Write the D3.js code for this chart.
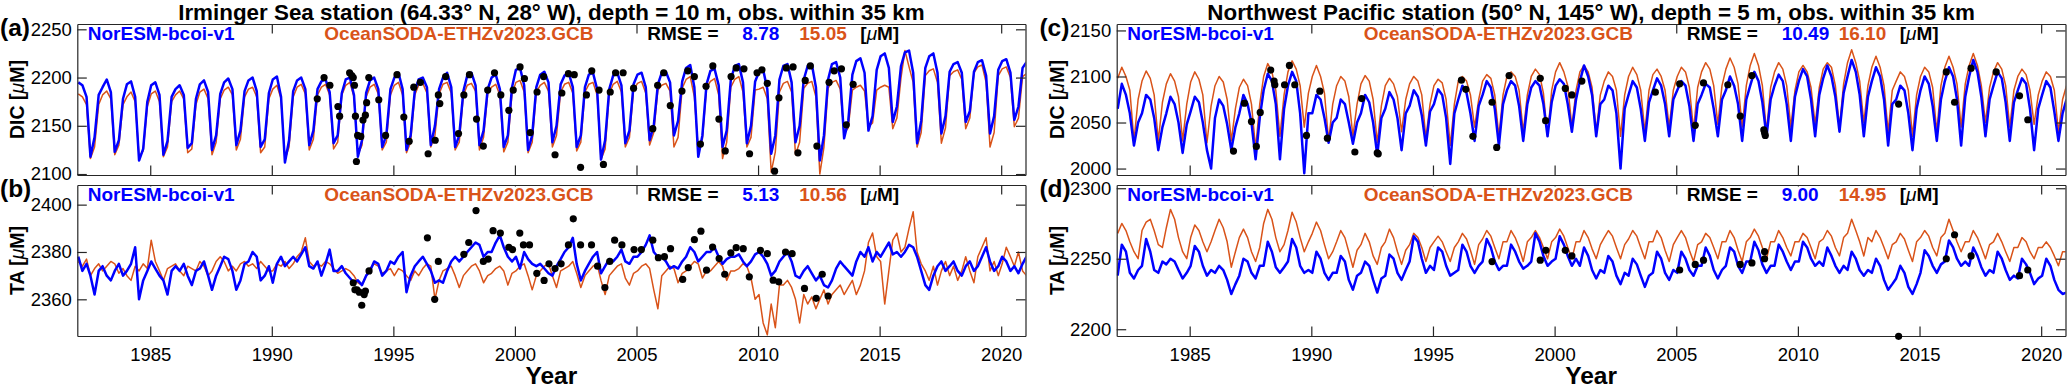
<!DOCTYPE html>
<html><head><meta charset="utf-8">
<script src="https://cdn.jsdelivr.net/npm/d3@7"></script>
<style>
body{margin:0;background:#fff;}
svg{display:block;font-family:"Liberation Sans",Arial,Helvetica,sans-serif;}
</style></head><body>
<svg id="chart" width="2067" height="390"></svg>
<script>
// ---------------- DATA ----------------
const xTicks = [1985, 1990, 1995, 2000, 2005, 2010, 2015, 2020];
const yTicksA = [2100, 2150, 2200, 2250];
const yTicksB = [2360, 2380, 2400];
const yTicksC = [2000, 2050, 2100, 2150];
const yTicksD = [2200, 2250, 2300];
// sample months within each year (Jan, Mar, May, Jul, Sep, Nov), series start 1982
const sampleOffsets = [0.04, 0.21, 0.38, 0.54, 0.71, 0.88];

// (a) Irminger DIC
const dicIrmNorESM = [
2195,2192,2180,2118,2138,2182, 2190,2198,2185,2123,2135,2178, 2193,2196,2180,2114,2126,2175,
2192,2195,2182,2120,2134,2180, 2188,2192,2182,2127,2132,2178, 2193,2197,2185,2125,2140,2183,
2195,2199,2188,2130,2145,2186, 2197,2200,2186,2128,2136,2184, 2198,2201,2180,2112,2135,2186,
2197,2200,2188,2130,2145,2188, 2196,2198,2185,2132,2140,2184, 2198,2200,2182,2118,2135,2184,
2197,2200,2188,2128,2140,2188, 2200,2205,2188,2125,2140,2186, 2198,2200,2190,2130,2150,2188,
2200,2205,2190,2128,2140,2186, 2202,2205,2192,2130,2145,2188, 2200,2203,2188,2128,2140,2190,
2208,2210,2192,2125,2140,2190, 2203,2206,2195,2133,2150,2193, 2202,2205,2190,2128,2140,2190,
2203,2205,2188,2115,2135,2188, 2202,2205,2192,2132,2145,2193, 2203,2205,2190,2135,2150,2193,
2205,2206,2195,2140,2155,2196, 2210,2213,2190,2118,2140,2193, 2207,2209,2192,2128,2145,2198,
2212,2214,2195,2132,2150,2196, 2206,2208,2188,2121,2140,2198, 2212,2214,2195,2133,2150,2198,
2212,2214,2190,2114,2140,2198, 2214,2216,2200,2137,2155,2203, 2217,2220,2205,2145,2160,2208,
2222,2225,2210,2154,2170,2212, 2226,2228,2205,2132,2155,2210, 2222,2225,2205,2142,2160,2206,
2214,2216,2205,2154,2165,2206, 2216,2218,2202,2142,2160,2208, 2217,2219,2205,2156,2170,2210,
2216];
const dicIrmSODA = [
2183,2180,2172,2116,2128,2172, 2182,2186,2178,2120,2130,2172, 2180,2185,2175,2118,2124,2170,
2183,2186,2175,2118,2128,2175, 2182,2186,2178,2122,2126,2172, 2185,2188,2178,2120,2133,2178,
2187,2190,2182,2125,2136,2180, 2188,2190,2180,2122,2128,2178, 2188,2192,2178,2115,2128,2180,
2190,2193,2183,2125,2136,2182, 2190,2193,2182,2126,2133,2182, 2192,2195,2180,2120,2130,2180,
2190,2193,2183,2125,2133,2182, 2192,2195,2182,2122,2133,2182, 2192,2194,2184,2128,2140,2183,
2193,2195,2184,2125,2133,2182, 2192,2194,2186,2125,2138,2183, 2190,2193,2182,2123,2133,2183,
2195,2197,2185,2122,2133,2185, 2192,2195,2186,2128,2140,2185, 2193,2195,2184,2124,2133,2185,
2193,2195,2182,2115,2126,2183, 2193,2196,2185,2128,2138,2187, 2194,2196,2184,2130,2143,2187,
2192,2194,2186,2128,2138,2189, 2198,2201,2180,2125,2136,2189, 2196,2199,2182,2116,2133,2190,
2198,2201,2185,2128,2138,2187, 2188,2190,2178,2102,2123,2185, 2194,2196,2185,2120,2133,2189,
2194,2196,2180,2100,2128,2189, 2195,2197,2188,2142,2148,2187, 2190,2192,2186,2149,2153,2187,
2190,2192,2190,2147,2158,2200, 2228,2211,2195,2128,2143,2202, 2207,2209,2195,2132,2148,2202,
2206,2208,2198,2147,2158,2205, 2211,2213,2195,2128,2143,2202, 2209,2211,2200,2149,2158,2201,
2204];
const dicIrmObs = [
[1991.87,2178],[1992.15,2200],[1992.39,2192],[1992.72,2170],[1992.79,2160],[1993.20,2205],[1993.29,2202],
[1993.35,2200],[1993.40,2192],[1993.44,2160],[1993.48,2113],[1993.53,2140],[1993.66,2139],[1993.75,2156],
[1993.85,2161],[1993.90,2174],[1993.99,2200],[1994.40,2177],[1994.68,2140],[1995.15,2203],[1995.43,2159],
[1995.65,2134],[1995.84,2190],[1996.11,2195],[1996.43,2121],[1996.72,2135],[1996.85,2182],[1996.91,2173],
[1997.15,2201],[1997.68,2142],[1997.90,2182],[1998.13,2203],[1998.42,2157],[1998.70,2129],[1998.88,2187],
[1999.16,2205],[1999.42,2182],[1999.75,2166],[1999.93,2187],[2000.21,2211],[2000.39,2199],[2000.63,2143],
[2000.91,2185],[2001.18,2201],[2001.65,2120],[2001.93,2184],[2002.20,2204],[2002.44,2203],[2002.70,2107],
[2002.94,2182],[2003.16,2207],[2003.46,2187],[2003.64,2110],[2003.92,2185],[2004.14,2205],[2004.45,2205],
[2004.88,2189],[2005.67,2147],[2005.87,2192],[2006.12,2205],[2006.39,2171],[2006.87,2186],[2007.11,2207],
[2007.38,2201],[2007.63,2131],[2007.86,2191],[2008.14,2212],[2008.39,2157],[2008.65,2124],[2008.89,2201],
[2009.10,2210],[2009.42,2209],[2009.65,2121],[2009.96,2205],[2010.16,2208],[2010.38,2194],[2010.68,2103],
[2010.86,2179],[2011.16,2210],[2011.44,2211],[2011.64,2122],[2011.94,2197],[2012.15,2212],[2012.42,2129],
[2012.92,2195],[2013.13,2207],[2013.43,2209],[2013.63,2151],[2013.91,2193]];

// (b) Irminger TA
const taIrmNorESM = [
2378,2372,2375,2370,2362,2372, 2374,2370,2368,2372,2375,2370, 2372,2375,2382,2360,2368,2372,
2376,2373,2370,2368,2362,2372, 2374,2372,2375,2370,2366,2372, 2373,2376,2370,2364,2370,2374,
2378,2377,2372,2364,2368,2375, 2376,2380,2378,2368,2370,2374, 2367,2375,2378,2374,2376,2378,
2376,2379,2382,2374,2373,2376, 2370,2375,2381,2372,2372,2374, 2371,2369,2367,2368,2366,2370,
2372,2376,2375,2370,2372,2376, 2375,2378,2380,2363,2370,2374, 2376,2378,2375,2372,2367,2368,
2367,2372,2376,2378,2376,2378, 2380,2382,2384,2383,2378,2380, 2380,2384,2387,2382,2378,2376,
2378,2373,2380,2377,2375,2374, 2375,2373,2371,2370,2374,2377, 2380,2382,2386,2375,2368,2372,
2375,2378,2380,2371,2374,2377, 2376,2378,2381,2376,2375,2378, 2378,2380,2383,2387,2380,2378,
2378,2376,2373,2374,2373,2376, 2378,2382,2380,2376,2378,2380, 2380,2382,2378,2375,2377,2378,
2378,2379,2376,2374,2376,2379, 2380,2378,2375,2370,2372,2376, 2378,2380,2376,2370,2369,2372,
2374,2371,2368,2370,2366,2365, 2368,2373,2376,2374,2372,2370, 2376,2380,2378,2382,2376,2380,
2378,2381,2384,2379,2380,2378, 2380,2383,2382,2378,2372,2366, 2364,2370,2374,2376,2372,2374,
2376,2372,2370,2374,2376,2372, 2374,2378,2382,2376,2372,2374, 2378,2376,2372,2374,2371,2375,
2378];
const taIrmSODA = [
2376,2374,2377,2370,2373,2375, 2372,2374,2376,2375,2371,2373, 2370,2368,2374,2372,2375,2373,
2385,2376,2372,2368,2373,2374, 2375,2372,2370,2374,2373,2372, 2376,2374,2370,2372,2376,2378,
2376,2372,2374,2372,2375,2376, 2374,2375,2373,2376,2374,2372, 2372,2375,2374,2376,2373,2375,
2378,2380,2386,2376,2374,2375, 2374,2376,2375,2373,2371,2372, 2373,2372,2370,2367,2366,2370,
2373,2375,2374,2371,2372,2373, 2370,2373,2372,2370,2368,2372, 2370,2373,2375,2374,2360,2368,
2372,2373,2374,2370,2365,2370, 2372,2374,2375,2372,2367,2370, 2371,2373,2374,2372,2366,2371,
2372,2374,2375,2370,2364,2370, 2372,2374,2375,2370,2365,2372, 2373,2374,2376,2371,2365,2370,
2372,2374,2375,2368,2362,2370, 2372,2374,2375,2369,2366,2371, 2372,2374,2375,2373,2364,2356,
2370,2372,2374,2373,2367,2371, 2372,2374,2376,2375,2369,2372, 2372,2374,2376,2374,2368,2372,
2372,2373,2375,2374,2369,2360, 2362,2350,2345,2358,2348,2366, 2366,2368,2365,2360,2350,2362,
2358,2361,2356,2360,2364,2358, 2362,2364,2366,2362,2365,2368, 2362,2366,2372,2384,2388,2378,
2376,2358,2372,2385,2388,2380, 2382,2390,2397,2380,2375,2372, 2368,2374,2366,2372,2376,2370,
2374,2368,2372,2378,2372,2367, 2378,2382,2386,2372,2376,2370, 2375,2382,2378,2374,2380,2372,
2370];
const taIrmObs = [
[1993.35,2367],[1993.42,2364],[1993.50,2364],[1993.60,2363],[1993.70,2357.5],[1993.80,2362],[1993.85,2363.5],
[1994.00,2372],[1996.40,2386],[1996.70,2360],[1996.85,2376],[1997.90,2379],[1998.10,2384],[1998.40,2397.5],
[1998.70,2376],[1998.90,2377],[1999.10,2389],[1999.40,2388],[1999.75,2382],[1999.90,2381],[2000.20,2388],
[2000.35,2383],[2000.60,2383],[2000.90,2371],[2001.20,2368],[2001.40,2375],[2001.65,2373],[2001.90,2375],
[2002.20,2383],[2002.40,2394],[2002.70,2383],[2003.15,2383],[2003.40,2374],[2003.70,2365],[2003.90,2376],
[2004.10,2385],[2004.40,2383],[2004.90,2381],[2005.20,2381],[2005.67,2385],[2005.90,2377.6],[2006.15,2378],
[2006.40,2381.4],[2006.90,2368.4],[2007.13,2373.4],[2007.38,2385.2],[2007.65,2388.8],[2007.88,2372.3],
[2008.13,2382.1],[2008.40,2377.2],[2008.63,2370.6],[2008.88,2379.6],[2009.10,2381.8],[2009.39,2381.4],
[2009.64,2369.5],[2010.10,2380.7],[2010.38,2379.3],[2010.62,2368.1],[2010.85,2367.4],[2011.13,2380],
[2011.40,2379.3],[2011.91,2364.6],[2012.39,2360.4],[2012.64,2370.6],[2012.88,2361.4]];

// (c) NW Pacific DIC
const dicPacNorESM = [
2065,2092,2080,2060,2025,2050, 2060,2080,2075,2055,2020,2045, 2060,2078,2070,2050,2017,2048,
2062,2078,2072,2050,2020,2000, 2055,2075,2068,2048,2020,2045, 2060,2080,2070,2050,2010,2055,
2085,2103,2095,2070,2010,2065, 2090,2105,2095,2060,1995,2060, 2060,2080,2075,2055,2028,2050,
2055,2075,2070,2050,2027,2050, 2060,2080,2072,2050,2015,2055, 2065,2083,2075,2055,2020,2060,
2068,2085,2078,2058,2025,2062, 2070,2086,2080,2055,2005,2060, 2075,2090,2082,2060,2030,2068,
2080,2095,2088,2065,2025,2070, 2085,2095,2090,2068,2030,2070, 2088,2095,2090,2070,2035,2072,
2090,2097,2092,2070,2040,2075, 2095,2112,2100,2080,2035,2070, 2075,2090,2085,2060,2000,2065,
2080,2095,2088,2065,2030,2072, 2085,2098,2090,2070,2035,2075, 2085,2095,2090,2068,2030,2070,
2080,2092,2088,2065,2035,2075, 2085,2100,2090,2070,2030,2075, 2090,2105,2095,2072,2035,2075,
2090,2102,2095,2070,2030,2078, 2095,2108,2100,2075,2035,2080, 2098,2112,2100,2078,2040,2082,
2100,2118,2105,2080,2035,2078, 2095,2110,2100,2075,2025,2070, 2075,2090,2085,2060,2020,2065,
2085,2100,2092,2068,2030,2075, 2095,2110,2100,2075,2025,2078, 2100,2118,2105,2078,2035,2075,
2090,2105,2098,2072,2030,2072, 2085,2098,2092,2065,2020,2065, 2080,2095,2088,2062,2030,2060,
2075];
const dicPacSODA = [
2098,2110,2100,2085,2030,2075, 2095,2106,2098,2080,2030,2072, 2092,2103,2095,2078,2030,2070,
2094,2105,2097,2080,2028,2068, 2090,2100,2094,2075,2030,2065, 2088,2097,2090,2070,2022,2070,
2100,2114,2105,2085,2035,2080, 2105,2117,2108,2090,2045,2082, 2100,2112,2100,2082,2030,2070,
2090,2100,2095,2078,2035,2070, 2092,2101,2095,2075,2028,2068, 2090,2098,2092,2078,2040,2075,
2092,2100,2095,2080,2033,2070, 2090,2097,2093,2075,2025,2070, 2095,2100,2095,2080,2045,2075,
2095,2102,2098,2080,2035,2080, 2100,2105,2100,2085,2040,2080, 2100,2108,2102,2082,2035,2085,
2105,2115,2105,2090,2045,2085, 2105,2112,2105,2088,2040,2080, 2095,2105,2100,2085,2035,2080,
2100,2110,2102,2085,2040,2085, 2102,2108,2100,2085,2045,2085, 2100,2110,2105,2088,2042,2088,
2105,2115,2108,2090,2048,2090, 2108,2120,2110,2092,2045,2090, 2112,2125,2112,2090,2040,2088,
2105,2115,2108,2090,2045,2085, 2105,2112,2105,2088,2048,2088, 2108,2115,2110,2090,2045,2092,
2115,2129,2115,2095,2050,2090, 2110,2122,2110,2090,2040,2085, 2095,2105,2100,2085,2035,2080,
2100,2110,2105,2088,2040,2090, 2110,2122,2110,2092,2045,2092, 2112,2125,2112,2090,2050,2088,
2105,2115,2108,2090,2045,2085, 2100,2108,2102,2085,2048,2080, 2095,2105,2100,2085,2040,2075,
2090];
const dicPacObs = [
[1986.80,2019],[1987.25,2071],[1987.54,2051],[1987.74,2024],[1987.90,2061],[1988.33,2107],[1988.47,2095],
[1988.50,2091],[1988.90,2091],[1989.10,2112],[1989.32,2091],[1989.80,2036],[1990.35,2084],[1990.66,2033],
[1991.79,2018],[1992.07,2076],[1992.71,2017],[1992.75,2016],[1996.17,2096],[1996.35,2086],[1996.64,2035],
[1997.43,2072],[1997.62,2023],[1998.13,2101],[1999.41,2098],[1999.63,2052],[2000.44,2087],[2000.71,2080],
[2001.12,2095],[2004.14,2083],[2005.14,2092],[2005.78,2047],[2006.12,2093],[2007.12,2091],[2007.63,2057],
[2008.11,2101],[2008.60,2042],[2008.63,2039],[2008.66,2036],[2014.14,2070],[2016.10,2105],[2016.44,2072],
[2017.12,2109],[2018.15,2105],[2019.11,2079],[2019.45,2053]];

// (d) NW Pacific TA
const taPacNorESM = [
2238,2260,2255,2240,2236,2242, 2245,2264,2255,2242,2240,2248, 2246,2250,2248,2242,2236,2240,
2245,2259,2255,2245,2238,2242, 2240,2245,2242,2235,2225,2232, 2238,2250,2248,2240,2236,2245,
2245,2262,2255,2244,2240,2244, 2248,2264,2258,2245,2240,2242, 2240,2255,2250,2240,2235,2240,
2240,2252,2248,2235,2228,2238, 2240,2248,2245,2235,2226,2236, 2238,2253,2250,2240,2235,2242,
2248,2266,2262,2250,2240,2245, 2242,2258,2255,2245,2238,2240, 2242,2260,2255,2245,2240,2245,
2248,2264,2258,2248,2242,2245, 2245,2260,2255,2248,2243,2245, 2248,2268,2262,2252,2245,2248,
2250,2266,2260,2252,2245,2250, 2245,2258,2252,2242,2236,2242, 2240,2252,2248,2238,2232,2240,
2238,2250,2246,2238,2230,2238, 2240,2255,2250,2240,2235,2242, 2240,2255,2250,2242,2238,2245,
2245,2258,2252,2242,2236,2242, 2245,2258,2255,2245,2240,2248, 2248,2262,2256,2246,2240,2245,
2245,2260,2255,2248,2242,2248, 2248,2262,2258,2250,2245,2248, 2245,2258,2252,2245,2240,2245,
2242,2255,2250,2242,2238,2242, 2240,2250,2245,2235,2228,2232, 2236,2245,2240,2230,2225,2232,
2240,2256,2252,2245,2240,2246, 2248,2263,2258,2250,2245,2248, 2245,2258,2252,2244,2238,2242,
2240,2255,2250,2242,2235,2238, 2236,2250,2246,2240,2232,2236, 2238,2250,2245,2235,2228,2225,
2226];
const taPacSODA = [
2268,2275,2270,2262,2255,2250, 2270,2276,2278,2270,2260,2258, 2272,2285,2278,2265,2255,2250,
2265,2274,2270,2262,2255,2262, 2270,2278,2272,2262,2244,2255, 2265,2271,2265,2255,2248,2258,
2275,2285,2278,2265,2255,2260, 2270,2283,2276,2265,2255,2262, 2268,2276,2270,2260,2250,2255,
2262,2270,2265,2255,2244,2256, 2260,2268,2262,2252,2246,2258, 2262,2271,2265,2255,2246,2256,
2260,2268,2265,2258,2248,2258, 2262,2266,2262,2255,2248,2258, 2262,2268,2264,2256,2246,2260,
2264,2270,2266,2258,2250,2262, 2262,2270,2265,2258,2248,2262, 2265,2270,2265,2258,2250,2262,
2265,2271,2266,2258,2250,2262, 2262,2270,2265,2257,2250,2260, 2265,2270,2266,2258,2250,2260,
2264,2270,2266,2258,2250,2262, 2262,2270,2265,2256,2248,2260, 2265,2270,2265,2256,2248,2260,
2262,2268,2265,2258,2250,2262, 2262,2270,2265,2256,2248,2262, 2265,2271,2266,2258,2250,2262,
2262,2270,2265,2258,2252,2262, 2262,2268,2265,2258,2250,2262, 2264,2270,2266,2258,2252,2265,
2268,2278,2270,2262,2252,2265, 2262,2270,2265,2258,2250,2260, 2262,2268,2264,2256,2248,2262,
2265,2270,2266,2258,2252,2265, 2268,2278,2270,2262,2255,2262, 2262,2270,2265,2258,2250,2260,
2262,2268,2262,2255,2248,2258, 2258,2265,2262,2255,2250,2258, 2258,2262,2258,2252,2245,2255,
2255];
const taPacObs = [
[1997.43,2248],[1999.41,2249],[1999.64,2256],[2000.44,2256],[2000.71,2252],[2005.14,2242],[2005.78,2246],
[2006.12,2249],[2007.63,2246],[2008.11,2247],[2008.63,2255],[2008.63,2250],[2014.14,2195],[2016.10,2250],
[2016.44,2267],[2017.12,2252],[2019.11,2238],[2019.45,2242]];

const titles = [
  "Irminger Sea station (64.33° N, 28° W), depth = 10 m, obs. within 35 km",
  "Northwest Pacific station (50° N, 145° W), depth = 5 m, obs. within 35 km"];
const rmseA = ["8.78", "15.05"], rmseB = ["5.13", "10.56"], rmseC = ["10.49", "16.10"], rmseD = ["9.00", "14.95"];
const modelNames = ["NorESM-bcoi-v1", "OceanSODA-ETHZv2023.GCB"];

// ---------------- DRAW ----------------
const BLUE = "#0000ff", ORANGE = "#d95319", AXC = "#262626";
const svg = d3.select("#chart");
const toPts = vals => vals.map((v, i) => [1982 + Math.floor(i / 6) + sampleOffsets[i % 6], v]);

const colL = [77.3, 1025.5], colR = [1116.7, 2065.5];
const rowT = [24, 175], rowB = [185, 336];

const panels = [
  {id:"a", xr:colL, yr:rowT, dom:[2099, 2255.5], yt:yTicksA, blue:dicIrmNorESM, orange:dicIrmSODA, obs:dicIrmObs, lab:"DIC", rmse:rmseA, bottom:false},
  {id:"b", xr:colL, yr:rowB, dom:[2344.5, 2408.3], yt:yTicksB, blue:taIrmNorESM, orange:taIrmSODA, obs:taIrmObs, lab:"TA", rmse:rmseB, bottom:true},
  {id:"c", xr:colR, yr:rowT, dom:[1993, 2157], yt:yTicksC, blue:dicPacNorESM, orange:dicPacSODA, obs:dicPacObs, lab:"DIC", rmse:rmseC, bottom:false},
  {id:"d", xr:colR, yr:rowB, dom:[2195.2, 2302.3], yt:yTicksD, blue:taPacNorESM, orange:taPacSODA, obs:taPacObs, lab:"TA", rmse:rmseD, bottom:true}
];

const defs = svg.append("defs");

function styleAxis(g) {
  g.select(".domain").attr("stroke", AXC).attr("stroke-width", 1.2);
  g.selectAll(".tick line").attr("stroke", AXC).attr("stroke-width", 1.2);
  g.selectAll(".tick text").attr("fill", "#000").style("font-size", "18.5px")
    .style("font-family", '"Liberation Sans",Arial,sans-serif');
}

function richText(x, y, segs, size, color, anchor) {
  const t = svg.append("text").attr("x", x).attr("y", y)
    .attr("fill", color || "#000").style("font-size", size + "px").style("font-weight", "bold")
    .attr("text-anchor", anchor || "start");
  segs.forEach(s => {
    const ts = t.append("tspan").text(s.t);
    if (s.it) ts.style("font-style", "italic").style("font-weight", "normal");
  });
  return t;
}

panels.forEach(p => {
  const x = d3.scaleLinear().domain([1982, 2021]).range(p.xr);
  const y = d3.scaleLinear().domain(p.dom).range([p.yr[1], p.yr[0]]);
  const W = p.xr[1] - p.xr[0], H = p.yr[1] - p.yr[0];
  const TL = 9.5;

  defs.append("clipPath").attr("id", "clip" + p.id).append("rect")
    .attr("x", p.xr[0]).attr("y", p.yr[0]).attr("width", W).attr("height", H);

  const line = d3.line().x(d => x(d[0])).y(d => y(d[1]));
  svg.append("path").datum(toPts(p.orange)).attr("d", line)
    .attr("fill", "none").attr("stroke", ORANGE).attr("stroke-width", 1.5)
    .attr("stroke-linejoin", "round").attr("clip-path", `url(#clip${p.id})`);
  svg.append("path").datum(toPts(p.blue)).attr("d", line)
    .attr("fill", "none").attr("stroke", BLUE).attr("stroke-width", 2.5)
    .attr("stroke-linejoin", "round").attr("clip-path", `url(#clip${p.id})`);

  // axes (inward ticks on all sides)
  const gB = svg.append("g").attr("transform", `translate(0,${p.yr[1]})`)
    .call(d3.axisBottom(x).tickValues(xTicks).tickSizeInner(-TL).tickSizeOuter(0)
      .tickPadding(11.5).tickFormat(p.bottom ? d3.format("d") : () => ""));
  styleAxis(gB);
  const gT = svg.append("g").attr("transform", `translate(0,${p.yr[0]})`)
    .call(d3.axisTop(x).tickValues(xTicks).tickSizeInner(-TL).tickSizeOuter(0).tickFormat(() => ""));
  styleAxis(gT);
  const gL = svg.append("g").attr("transform", `translate(${p.xr[0]},0)`)
    .call(d3.axisLeft(y).tickValues(p.yt).tickSizeInner(-TL).tickSizeOuter(0).tickPadding(5.5).tickFormat(d3.format("d")));
  styleAxis(gL);
  const gR = svg.append("g").attr("transform", `translate(${p.xr[1]},0)`)
    .call(d3.axisRight(y).tickValues(p.yt).tickSizeInner(-TL).tickSizeOuter(0).tickFormat(() => ""));
  styleAxis(gR);

  // observations
  svg.append("g").selectAll("circle").data(p.obs).join("circle")
    .attr("cx", d => x(d[0])).attr("cy", d => y(d[1])).attr("r", 3.6).attr("fill", "#000");

  // legend texts with white background
  const base = p.yr[0] + 16;
  const items = [
    {dx:10.5, segs:[{t:modelNames[0]}], c:BLUE},
    {dx:247, segs:[{t:modelNames[1]}], c:ORANGE},
    {dx:570, segs:[{t:"RMSE ="}], c:"#000"},
    {dx:665, segs:[{t:p.rmse[0]}], c:BLUE},
    {dx:722, segs:[{t:p.rmse[1]}], c:ORANGE},
    {dx:783, segs:[{t:"["},{t:"μ",it:true},{t:"M]"}], c:"#000"}
  ];
  items.forEach(it => {
    const t = richText(p.xr[0] + it.dx, base, it.segs, 19, it.c);
    const bb = t.node().getBBox();
    svg.insert("rect", () => t.node()).attr("x", bb.x - 1).attr("y", p.yr[0] + 1.5)
      .attr("width", bb.width + 2).attr("height", base + 3 - p.yr[0] - 1.5).attr("fill", "#fff");
  });

  // y label
  const cy = (p.yr[0] + p.yr[1]) / 2;
  richText(0, 0, [{t:p.lab + " ["},{t:"μ",it:true},{t:"M]"}], 19.5, "#000", "middle")
    .attr("transform", `translate(${p.xr[0] - 53},${cy}) rotate(-90)`);

  // panel letter
  richText(p.xr[0] - 77.3, p.yr[0] + 11.5, [{t:"(" + p.id + ")"}], 24.5, "#000");

  if (p.bottom) {
    richText((p.xr[0] + p.xr[1]) / 2, 384, [{t:"Year"}], 24.5, "#000", "middle");
  }
});

// titles
richText((colL[0] + colL[1]) / 2, 19.5, [{t:titles[0]}], 22.4, "#000", "middle");
richText((colR[0] + colR[1]) / 2, 19.5, [{t:titles[1]}], 22.4, "#000", "middle");
</script>
</body></html>
